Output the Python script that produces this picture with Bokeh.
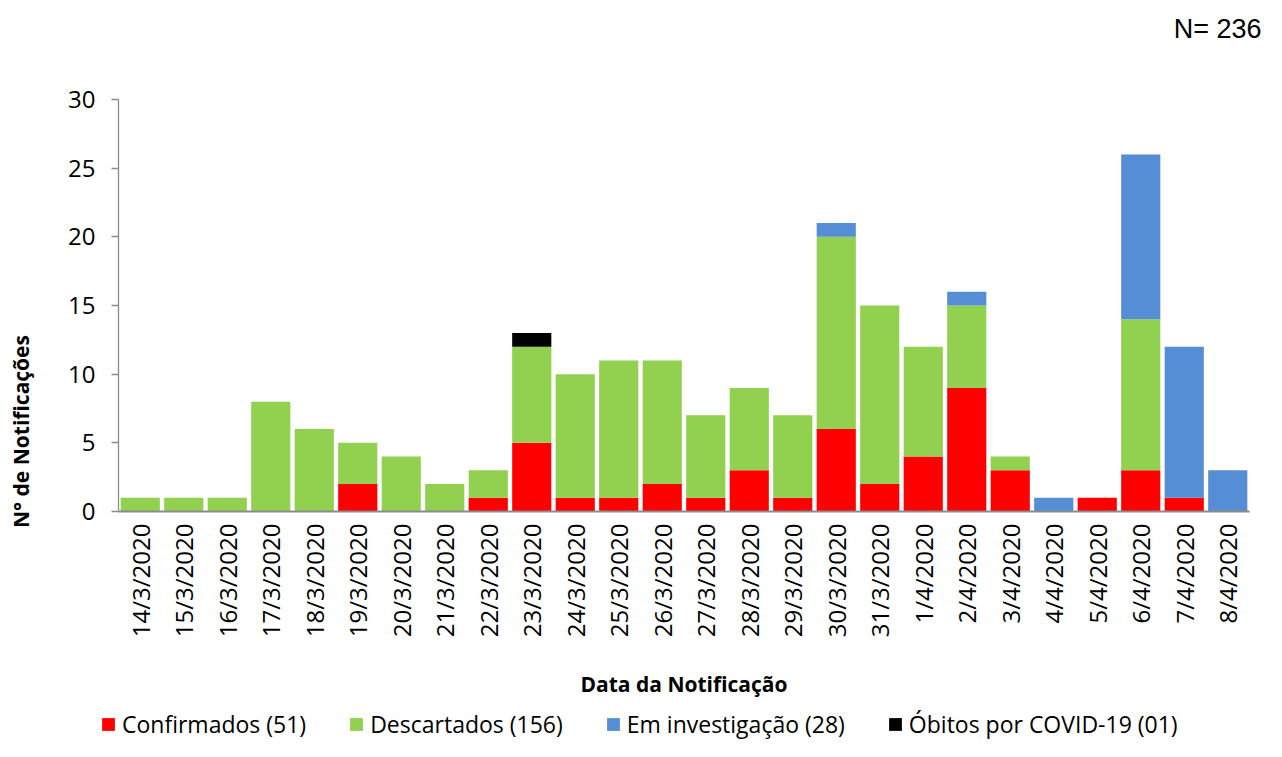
import math
from bokeh.plotting import figure
from bokeh.layouts import column
from bokeh.models import (ColumnDataSource, FactorRange, Range1d, FixedTicker, Legend,
                          LegendItem, Label, Plot)
from bokeh.embed import file_html
from bokeh.resources import INLINE

# ---- data ----
dates = ["14/3/2020", "15/3/2020", "16/3/2020", "17/3/2020", "18/3/2020", "19/3/2020",
         "20/3/2020", "21/3/2020", "22/3/2020", "23/3/2020", "24/3/2020", "25/3/2020",
         "26/3/2020", "27/3/2020", "28/3/2020", "29/3/2020", "30/3/2020", "31/3/2020",
         "1/4/2020", "2/4/2020", "3/4/2020", "4/4/2020", "5/4/2020", "6/4/2020",
         "7/4/2020", "8/4/2020"]
confirmados = [0, 0, 0, 0, 0, 2, 0, 0, 1, 5, 1, 1, 2, 1, 3, 1, 6, 2, 4, 9, 3, 0, 1, 3, 1, 0]
descartados = [1, 1, 1, 8, 6, 3, 4, 2, 2, 7, 9, 10, 9, 6, 6, 6, 14, 13, 8, 6, 1, 0, 0, 11, 0, 0]
investigacao = [0, 0, 0, 0, 0, 0, 0, 0, 0, 0, 0, 0, 0, 0, 0, 0, 1, 0, 0, 1, 0, 1, 0, 12, 11, 3]
obitos = [0, 0, 0, 0, 0, 0, 0, 0, 0, 1, 0, 0, 0, 0, 0, 0, 0, 0, 0, 0, 0, 0, 0, 0, 0, 0]

series = ["confirmados", "descartados", "investigacao", "obitos"]
legend_labels = ["Confirmados (51)", "Descartados (156)", "Em investigação (28)",
                 "Óbitos por COVID-19 (01)"]
colors = ["#FF0000", "#92D050", "#558ED5", "#000000"]
y_ticks = [0, 5, 10, 15, 20, 25, 30]
x_title = "Data da Notificação"
y_title = "N° de Notificações"
total_text = "N= 236"

source = ColumnDataSource(dict(date=dates, confirmados=confirmados, descartados=descartados,
                               investigacao=investigacao, obitos=obitos))

FONT = "Open Sans"
AX = "#8c8c8c"
W = 1266
HAS_FRAME_ALIGN = "frame_align" in Plot.properties()


def strip(height, x_end, y_end):
    f = figure(width=W, height=height, output_backend="svg", toolbar_location=None,
               x_range=Range1d(0, x_end), y_range=Range1d(0, y_end), min_border=0)
    f.axis.visible = False
    f.grid.visible = False
    f.outline_line_color = None
    if HAS_FRAME_ALIGN:
        f.frame_align = False
    return f


# ---- top strip: total count ----
TOP_H = 50
top = strip(TOP_H, W, TOP_H)
top.add_layout(Label(x=W - 5, y=TOP_H - 28, text=total_text, text_align="right",
                     text_baseline="middle", text_font="Liberation Sans",
                     text_font_size="27px", text_color="black"))

# ---- main chart ----
p = figure(x_range=FactorRange(factors=dates, range_padding=0), y_range=Range1d(0, 30),
           width=W, height=655, output_backend="svg", toolbar_location=None,
           min_border_left=118, min_border_right=17, min_border_top=99 - TOP_H,
           min_border_bottom=194)
p.outline_line_color = None
p.xgrid.visible = False
p.ygrid.visible = False
if HAS_FRAME_ALIGN:
    p.frame_align = False

p.vbar_stack(series, x="date", width=0.9, source=source, fill_color=colors, line_color=None)

# y axis
p.yaxis.ticker = FixedTicker(ticks=y_ticks)
p.yaxis.axis_line_color = AX
p.yaxis.axis_line_width = 1.3
p.yaxis.major_tick_line_color = AX
p.yaxis.major_tick_line_width = 1.3
p.yaxis.major_tick_out = 7
p.yaxis.major_tick_in = 0
p.yaxis.minor_tick_line_color = None
p.yaxis.major_label_text_font = FONT
p.yaxis.major_label_text_font_size = "24px"
p.yaxis.major_label_text_color = "black"
p.yaxis.major_label_standoff = 16
# trailing em spaces push the visible title below the frame centre, as in the reference
p.yaxis.axis_label = y_title + "\u2003" * 12
p.yaxis.axis_label_text_font = FONT
p.yaxis.axis_label_text_font_size = "21px"
p.yaxis.axis_label_text_font_style = "bold"
p.yaxis.axis_label_text_color = "black"
p.yaxis.axis_label_standoff = 30

# x axis
p.xaxis.axis_line_color = AX
p.xaxis.axis_line_width = 2
p.xaxis.major_tick_line_color = None
p.xaxis.major_tick_out = 0
p.xaxis.major_label_orientation = math.pi / 2
p.xaxis.major_label_text_font = FONT
p.xaxis.major_label_text_font_size = "24px"
p.xaxis.major_label_text_color = "black"
p.xaxis.major_label_standoff = 12
p.xaxis.axis_label = x_title
p.xaxis.axis_label_text_font = FONT
p.xaxis.axis_label_text_font_size = "21px"
p.xaxis.axis_label_text_font_style = "bold"
p.xaxis.axis_label_text_color = "black"
p.xaxis.axis_label_standoff = 30

# ---- legend strip below the chart ----
leg = strip(36, 1, 1)
# one off-screen point each so that the legend swatches get their colours
dummies = [leg.vbar(x=[5], top=[0], width=1, fill_color=c, line_color=None) for c in colors]
items = [LegendItem(label=lab, renderers=[r]) for lab, r in zip(legend_labels, dummies)]
lg = Legend(items=items, orientation="horizontal", location=(100, 1),
            glyph_width=16, glyph_height=16, label_standoff=6, spacing=42,
            padding=0, margin=0, border_line_color=None, background_fill_alpha=0,
            label_text_font=FONT, label_text_font_size="23px", label_text_color="black")
leg.add_layout(lg, "center")

open("out.html", "w").write(file_html(column(top, p, leg, spacing=0), INLINE))
